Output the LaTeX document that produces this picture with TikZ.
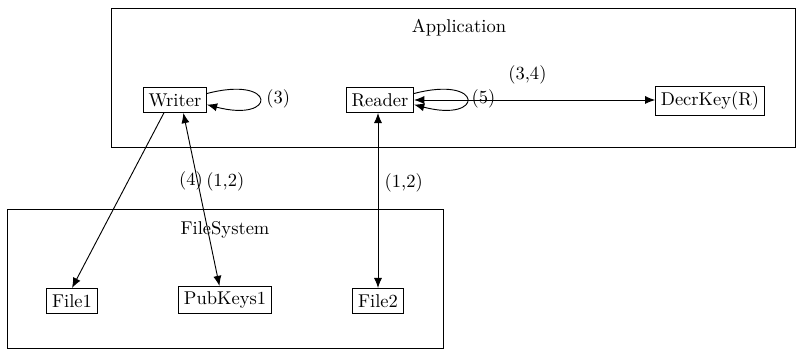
\documentclass[tikz,border=0pt]{standalone}
\usetikzlibrary{arrows.meta}
\tikzset{
  px/.style={x=0.54pt,y=-0.54pt},
  box/.style={draw,line width=0.5pt,inner sep=2.8pt,minimum height=13.5pt},
  frame/.style={draw,line width=0.5pt},
  tip/.tip={Latex[length=5.5pt,width=4.4pt]},
  link/.style={line width=0.5pt,-tip},
  blink/.style={line width=0.5pt,tip-tip},
}
\begin{document}
\begin{tikzpicture}[px]
\useasboundingbox (0,0) rectangle (796,349);

% containers
\draw[frame] (111,8) rectangle (795.5,147);
\node (app) at (459,28) {Application};
\draw[frame] (7,209) rectangle (443,348.5);
\node (fs) at (225,230) {FileSystem};

% components
\node[box] (w) at (175,100) {Writer};
\node[box] (r) at (380,100) {Reader};
\node[box] (d) at (710,101) {DecrKey(R)};
\node[box] (f1) at (72,301) {File1};
\node[box] (pk) at (225,300) {PubKeys1};
\node[box] (f2) at (378,301) {File2};

% self loops
\draw[link] ([yshift=3.5pt]w.east) .. controls +(38pt,10pt) and +(38pt,-10pt) .. ([yshift=-2.5pt]w.east)
  node[pos=0.5,right=0pt] (l3) {(3)};
\draw[link] ([yshift=3.5pt]r.east) .. controls +(38pt,10pt) and +(38pt,-10pt) .. ([yshift=-2.5pt]r.east)
  node[pos=0.5,right=-1pt] (l5) {(5)};

% messages
\draw[blink] (r.east) -- (r.east -| d.west) node[pos=0.47,above=5pt] {(3,4)};
\draw[link] ([xshift=-6pt]w.south) -- (f1.north) node[pos=0.39,right=24pt] {(4)};
\draw[blink] ([xshift=4.5pt]w.south) -- ([xshift=-3pt]pk.north) node[pos=0.4,right=1pt] {(1,2)};
\draw[blink] (r.south -| f2.north) -- (f2.north) node[pos=0.4,right=0pt] {(1,2)};
\end{tikzpicture}
\end{document}
